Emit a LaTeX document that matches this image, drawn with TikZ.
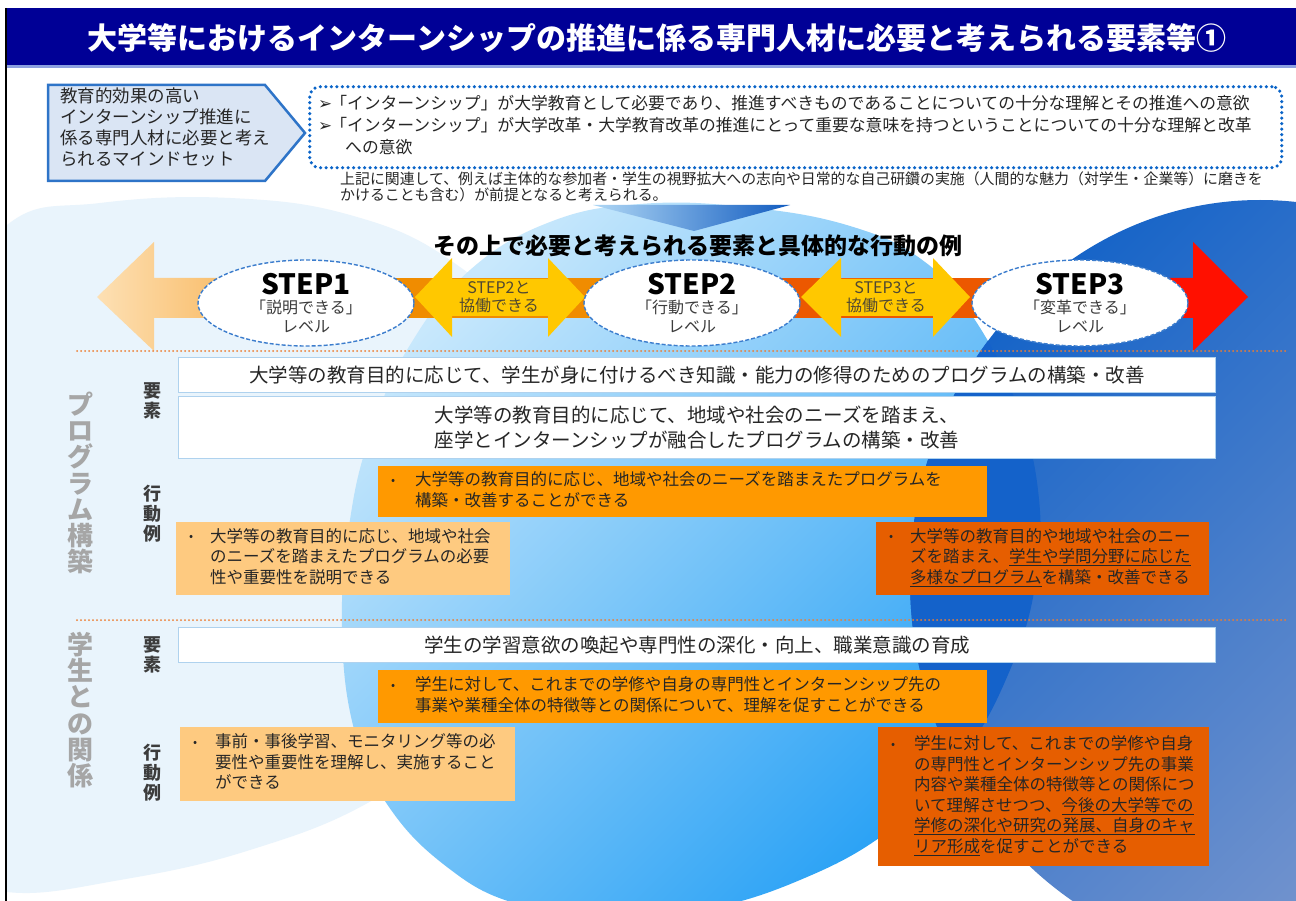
\documentclass[tikz,border=0pt]{standalone}
\usepackage{fontspec}
\setmainfont{Noto Sans CJK JP}
\newfontfamily\djv{DejaVu Sans}
\usetikzlibrary{shapes.geometric}
\definecolor{titlebg}{RGB}{0,0,150}
\definecolor{titleline}{RGB}{140,160,225}
\definecolor{pentfill}{RGB}{218,229,244}
\definecolor{pentdraw}{RGB}{46,116,200}
\definecolor{dotblue}{RGB}{10,100,200}
\definecolor{paleblue}{RGB}{233,244,252}
\definecolor{midlight}{RGB}{200,232,252}
\definecolor{middark}{RGB}{38,160,245}
\definecolor{darkA}{RGB}{22,100,200}
\definecolor{darkB}{RGB}{128,154,206}
\definecolor{darkOv}{RGB}{20,98,202}
\definecolor{wedgeA}{RGB}{175,215,245}
\definecolor{wedgeB}{RGB}{18,92,192}
\definecolor{arrowL}{RGB}{253,224,180}
\definecolor{arrowLR}{RGB}{246,168,62}
\definecolor{shafttwo}{RGB}{240,140,0}
\definecolor{shaftthree}{RGB}{236,88,0}
\definecolor{redarrow}{RGB}{255,16,0}
\definecolor{yel}{RGB}{255,200,0}
\definecolor{yeltext}{RGB}{80,72,50}
\definecolor{ellborder}{RGB}{60,125,205}
\definecolor{sepcol}{RGB}{237,125,49}
\definecolor{elemborder}{RGB}{175,210,238}
\definecolor{boxAcol}{RGB}{255,153,0}
\definecolor{boxBcol}{RGB}{254,202,128}
\definecolor{boxCcol}{RGB}{230,94,0}
\definecolor{txt}{RGB}{38,38,38}
\definecolor{grayl}{RGB}{166,166,166}
\definecolor{labgray}{RGB}{60,60,60}
\newcommand{\bitem}[2]{\begin{tabular}{@{}l@{}l@{}}\makebox[#1][l]{\hspace{3pt}\raisebox{1.5pt}{\fontsize{12}{12}\selectfont •}}&#2\end{tabular}}
\begin{document}
\begin{tikzpicture}[x=1pt,y=-1pt,
  elem/.style={draw=elemborder, fill=white, line width=1pt, anchor=north west, inner sep=0pt, font=\fontsize{19.5}{25.5}\selectfont, text=txt, align=center},
  act/.style={anchor=north west, inner xsep=10pt, inner ysep=0pt, align=left, font=\fontsize{16.5}{20.5}\selectfont, text=txt},
  stepell/.style={ellipse, draw=ellborder, fill=white, line width=1.4pt, dash pattern=on 4pt off 2pt, minimum width=216pt, minimum height=86pt, inner sep=0pt},
  steptitle/.style={font=\fontsize{28}{28}\selectfont\bfseries, text=black, inner sep=0pt},
  stepsub/.style={font=\fontsize{16}{16}\selectfont, text=labgray, inner sep=0pt},
  ylab/.style={font=\fontsize{16}{17.5}\selectfont, text=yeltext, align=center, inner sep=0pt},
  biglab/.style={font=\fontsize{26}{26.3}\selectfont\bfseries, text=grayl, align=center, inner sep=0pt},
  smlab/.style={font=\fontsize{18}{20}\selectfont\bfseries, text=labgray, align=center, inner sep=0pt},
  sepline/.style={draw=sepcol, line width=2pt, dash pattern=on 0pt off 4pt, line cap=round},
  plain/.style={text=txt, inner sep=0pt, anchor=west}
]
\useasboundingbox (0,0) rectangle (1296,901);
\fill[white] (0,0) rectangle (1296,901);
% backgrounds
\begin{scope}
\clip (7,69) rectangle (1296,901);
\fill[paleblue] plot[smooth cycle, tension=0.7] coordinates {(7,225) (100,203) (230,198) (350,215) (450,260) (530,340) (560,450) (540,600) (480,720) (373,800) (250,850) (120,880) (7,892) (-60,860) (-80,600) (-60,330)};
\shade[top color=midlight, bottom color=middark, shading angle=45] plot[smooth cycle, tension=0.7] coordinates {(640,204) (745,207) (850,226) (925,262) (975,320) (1015,400) (1038,490) (1036,580) (1010,670) (960,760) (890,830) (800,880) (700,910) (600,915) (514,903) (447,867) (389,807) (355,733) (342,630) (350,520) (372,430) (410,345) (470,270) (550,222)};
\shade[top color=darkA, bottom color=darkB, shading angle=45] (1260,580) ellipse [x radius=350, y radius=380];
\begin{scope}
\clip plot[smooth cycle, tension=0.7] coordinates {(640,204) (745,207) (850,226) (925,262) (975,320) (1015,400) (1038,490) (1036,580) (1010,670) (960,760) (890,830) (800,880) (700,910) (600,915) (514,903) (447,867) (389,807) (355,733) (342,630) (350,520) (372,430) (410,345) (470,270) (550,222)};
\fill[darkOv] (1260,580) ellipse [x radius=350, y radius=380];
\end{scope}
\shade[left color=wedgeA, right color=wedgeB] (593,205) -- (790,205) -- (694,231) -- cycle;
\end{scope}
% title
\fill[titlebg] (7,8) rectangle (1296,65);
\draw[titleline, line width=3pt] (7,67) -- (1296,67);
\draw[black, line width=2pt] (6,8) -- (6,901);
\node[text=white, font=\fontsize{30}{30}\selectfont\bfseries, inner sep=0pt] (title) at (657,38) {大学等におけるインターンシップの推進に係る専門人材に必要と考えられる要素等①};
% mindset
\filldraw[fill=pentfill, draw=pentdraw, line width=2.5pt, line join=miter] (48,85) -- (265,85) -- (305,133) -- (265,181) -- (48,181) -- cycle;
\node[plain, align=left, font=\fontsize{17.5}{21}\selectfont] (mind) at (60,127.5) {教育的効果の高い\\インターンシップ推進に\\係る専門人材に必要と考え\\られるマインドセット};
\node[draw=dotblue, line width=3.5pt, dash pattern=on 0pt off 5.5pt, line cap=round, rounded corners=10pt, minimum width=972pt, minimum height=81pt, anchor=north west, inner sep=0pt] (mbox) at (308,85) {};
\node[plain, font=\fontsize{16.8}{20}\selectfont] (m1) at (318,103) {{\djv ➢}\hspace{-2pt}「インターンシップ」が大学教育として必要であり、推進すべきものであることについての十分な理解とその推進への意欲};
\node[plain, font=\fontsize{16.8}{20}\selectfont] (m2) at (318,125) {{\djv ➢}\hspace{-2pt}「インターンシップ」が大学改革・大学教育改革の推進にとって重要な意味を持つということについての十分な理解と改革};
\node[plain, font=\fontsize{16.8}{20}\selectfont] (m3) at (345,147) {への意欲};
\node[plain, font=\fontsize{14.9}{16}\selectfont] (n1) at (340,179) {上記に関連して、例えば主体的な参加者・学生の視野拡大への志向や日常的な自己研鑽の実施（人間的な魅力（対学生・企業等）に磨きを};
\node[plain, font=\fontsize{14.9}{16}\selectfont] (n2) at (340,195) {かけることも含む）が前提となると考えられる。};
% heading
\node[font=\fontsize{23}{23}\selectfont\bfseries, text=black, inner sep=0pt] (head) at (698,246) {その上で必要と考えられる要素と具体的な行動の例};
% arrows
\shade[left color=arrowL, right color=arrowLR] (97,297) -- (154,242) -- (154,278) -- (306,278) -- (306,318) -- (154,318) -- (154,351) -- cycle;
\fill[shafttwo] (306,278) rectangle (692,318);
\fill[shaftthree] (692,278) rectangle (1080,318);
\fill[redarrow] (1080,278) -- (1193,278) -- (1193,242) -- (1248,297) -- (1193,351) -- (1193,318) -- (1080,318) -- cycle;
\fill[yel] (415,297) -- (452,258) -- (452,279) -- (548,279) -- (548,258) -- (585,297) -- (548,337) -- (548,316) -- (452,316) -- (452,337) -- cycle;
\fill[yel] (801,297) -- (841,258) -- (841,279) -- (933,279) -- (933,258) -- (970,297) -- (933,337) -- (933,316) -- (841,316) -- (841,337) -- cycle;
\node[ylab] (y1) at (499,297) {STEP2と\\協働できる};
\node[ylab] (y2) at (886,297) {STEP3と\\協働できる};
% steps
\node[stepell] (s1) at (306,303) {};
\node[stepell] (s2) at (692,303) {};
\node[stepell] (s3) at (1080,303) {};
\node[steptitle] (s1t) at (306,284) {STEP1};
\node[stepsub] (s1s) at (306,307) {「説明できる」};
\node[stepsub] (s1l) at (306,327) {レベル};
\node[steptitle] (s2t) at (692,284) {STEP2};
\node[stepsub] (s2s) at (692,307) {「行動できる」};
\node[stepsub] (s2l) at (692,327) {レベル};
\node[steptitle] (s3t) at (1080,284) {STEP3};
\node[stepsub] (s3s) at (1080,307) {「変革できる」};
\node[stepsub] (s3l) at (1080,327) {レベル};
% separators
\draw[sepline] (77,351) -- (1286,351);
\draw[sepline] (77,620) -- (1286,620);
% side labels
\node[biglab] (lp) at (80,483) {プ\\ロ\\グ\\ラ\\ム\\構\\築};
\node[biglab] (ls) at (80,710) {学\\生\\と\\の\\関\\係};
\node[smlab] (k1) at (152,401) {要\\素};
\node[smlab] (k2) at (152,514) {行\\動\\例};
\node[smlab] (k3) at (152,655) {要\\素};
\node[smlab] (k4) at (152,773) {行\\動\\例};
% element boxes
\node[elem, minimum width=1037pt, minimum height=35pt] (e1) at (178,357) {大学等の教育目的に応じて、学生が身に付けるべき知識・能力の修得のためのプログラムの構築・改善};
\node[elem, minimum width=1037pt, minimum height=62pt, align=left] (e2) at (178,396) {大学等の教育目的に応じて、地域や社会のニーズを踏まえ、\\座学とインターンシップが融合したプログラムの構築・改善};
\node[elem, minimum width=1037pt, minimum height=35pt] (e3) at (178,627) {学生の学習意欲の喚起や専門性の深化・向上、職業意識の育成};
% action boxes
\node[act, fill=boxAcol, text width=589pt, minimum height=51pt] (ba) at (378,466) {\bitem{27pt}{大学等の教育目的に応じ、地域や社会のニーズを踏まえたプログラムを\\&構築・改善することができる}};
\node[act, fill=boxBcol, text width=314pt, minimum height=73pt] (bb) at (176,522) {\bitem{24pt}{大学等の教育目的に応じ、地域や社会\\&のニーズを踏まえたプログラムの必要\\&性や重要性を説明できる}};
\node[act, fill=boxCcol, text width=313pt, minimum height=73pt] (bc) at (876,522) {\bitem{24pt}{大学等の教育目的や地域や社会のニー\\&ズを踏まえ、\underline{学生や学問分野に応じた}\\&\underline{多様なプログラム}を構築・改善できる}};
\node[act, fill=boxAcol, text width=589pt, minimum height=53pt] (bd) at (378,670) {\bitem{27pt}{学生に対して、これまでの学修や自身の専門性とインターンシップ先の\\&事業や業種全体の特徴等との関係について、理解を促すことができる}};
\node[act, fill=boxBcol, text width=315pt, minimum height=74pt] (be) at (180,727) {\bitem{25pt}{事前・事後学習、モニタリング等の必\\&要性や重要性を理解し、実施すること\\&ができる}};
\node[act, fill=boxCcol, text width=311pt, minimum height=139pt] (bf) at (878,727) {\bitem{26pt}{学生に対して、これまでの学修や自身\\&の専門性とインターンシップ先の事業\\&内容や業種全体の特徴等との関係につ\\&いて理解させつつ、\underline{今後の大学等での}\\&\underline{学修の深化や研究の発展、自身のキャ}\\&\underline{リア形成}を促すことができる}};
\end{tikzpicture}
\end{document}
